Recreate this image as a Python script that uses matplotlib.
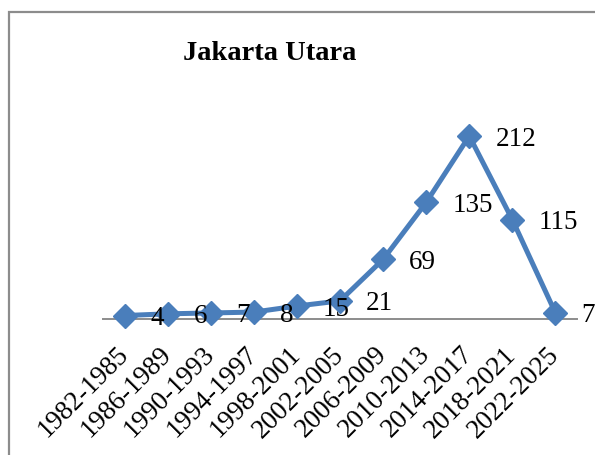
import matplotlib
matplotlib.use("Agg")
import matplotlib.pyplot as plt
from matplotlib.patches import Rectangle

title = "Jakarta Utara"
periods = ["1982-1985", "1986-1989", "1990-1993", "1994-1997", "1998-2001",
           "2002-2005", "2006-2009", "2010-2013", "2014-2017", "2018-2021", "2022-2025"]
values = [4, 6, 7, 8, 15, 21, 69, 135, 212, 115, 7]

W, H = 595, 455
fig = plt.figure(figsize=(W / 100, H / 100), dpi=100)
serif = ["Liberation Serif", "DejaVu Serif"]

# outer chart border
fig.patches.append(Rectangle((9 / W, -0.05), 1.2, 1 - 12 / H + 0.05,
                             transform=fig.transFigure, fill=False,
                             edgecolor="#8c8c8c", linewidth=1.6, zorder=0))

x0, x1 = 103 / W, 577 / W
ybot = (H - 319) / H
ytop = (H - 103.2) / H
ax = fig.add_axes([x0, ybot, x1 - x0, ytop - ybot])
xs = list(range(len(periods)))
ax.plot(xs, values, color="#4a7ebb", linewidth=3.6, marker="D",
        markersize=12.5, markerfacecolor="#4a7ebb", markeredgecolor="#4a7ebb",
        clip_on=False, zorder=3)
ax.set_xlim(-0.5, len(periods) - 0.5)
ax.set_ylim(0, 250)

for x, v in zip(xs, values):
    ax.annotate(str(v), (x, v), xytext=(26, -3), textcoords="offset pixels",
                ha="left", va="center", fontsize=19.5, family=serif, color="black")

for s in ["top", "right", "left"]:
    ax.spines[s].set_visible(False)
ax.spines["bottom"].set_color("#8c8c8c")
ax.spines["bottom"].set_linewidth(1.4)
ax.set_yticks([])
ax.set_xticks(xs)
ax.set_xticklabels(periods, rotation=45, ha="right", va="center",
                   rotation_mode="anchor", fontsize=19.5, family=serif)
ax.tick_params(axis="x", length=0, pad=23)
ax.patch.set_alpha(0)

fig.text(270 / W, 1 - 54 / H, title, ha="center", va="center", fontsize=20.5,
         fontweight="bold", family=serif)

fig.savefig("out.png", dpi=100)
